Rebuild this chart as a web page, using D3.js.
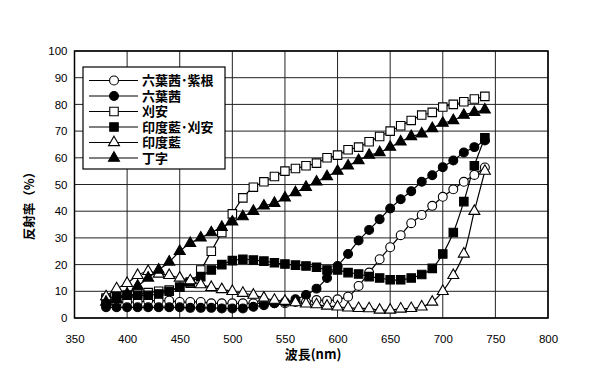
<!DOCTYPE html>
<html>
<head>
<meta charset="utf-8">
<script src="https://cdn.jsdelivr.net/npm/d3@7"></script>
<style>
  body { margin: 0; background: #fff; }
  text { font-family: "Liberation Sans", Arial, sans-serif; }
  .jp { font-family: "Noto Sans CJK JP", sans-serif; font-weight: bold; }
  .leg { font-family: "Liberation Sans", "Noto Sans CJK JP", sans-serif; font-weight: bold; }
</style>
</head>
<body>
<div class="box"></div>
<script>
// données (longueur d'onde 380..740 nm, pas 10)
const longueurs = d3.range(380, 741, 10);

const rokuSiko = [5, 5.5, 6, 6, 6.5, 6.5, 6.5, 6, 6, 6, 5.5, 5.5, 5.5, 5.5, 5.5, 5.5, 5.5, 5.5, 6, 6,
  6.7, 6.5, 7, 8, 12, 17, 22, 26.5, 31, 35.5, 38.6, 42, 45.4, 48.2, 51, 53.6, 56.4];
const roku = [4, 4, 4, 4, 4, 4, 4, 4, 3.8, 3.8, 3.8, 3.6, 3.6, 3.6, 4.2, 4.8, 5.5, 6, 7, 8.6,
  11, 15, 19.5, 24, 29, 33, 37, 41, 44.5, 47.5, 51, 53.5, 56.5, 59, 62, 64, 66.5];
const kariyasu = [7.5, 8, 8.5, 9, 9.5, 10, 10.5, 11.5, 13, 18, 25, 32, 39, 45, 49, 51, 53, 55, 56, 57,
  58, 60, 61, 63, 64, 66, 68, 70, 72, 74, 76, 77, 79, 80, 81, 82, 83];
const aiKari = [7, 8, 8.5, 8.5, 8.5, 9, 10, 11.5, 13.5, 15.5, 18, 20, 21.5, 22, 21.7, 21.3, 20.7, 20.2, 19.8, 19.5,
  19, 18, 18, 17, 16.5, 15.5, 15, 14.3, 14.3, 15, 16.3, 18.6, 24, 32, 43.6, 57, 67.5];
const ai = [8, 11, 13, 16, 17.5, 16.5, 16, 15, 14, 12.5, 11.5, 10.7, 10, 9.3, 8.6, 7.5, 6.7, 6.3, 5.8, 5.3,
  5, 4.5, 4.2, 3.8, 3.6, 3.5, 3, 3, 3.4, 3.6, 4.2, 6, 10, 16, 24, 40, 55];
const choji = [6, 7, 9, 12, 15, 18, 21, 25, 28, 30, 32, 34, 36, 38, 40, 42, 43, 45, 47, 49,
  51, 53, 55, 57, 59, 61, 62, 64, 66, 68, 69, 71, 73, 74, 76, 77, 78];

const noms = ['六葉茜･紫根', '六葉茜', '刈安', '印度藍･刈安', '印度藍', '丁字'];
const formes = ['circle', 'circle', 'square', 'square', 'triangle', 'triangle'];
const pleins = [false, true, false, true, false, true];
const valeurs = [rokuSiko, roku, kariyasu, aiKari, ai, choji];

const ticksX = d3.range(350, 801, 50);
const ticksY = d3.range(0, 101, 10);

const dims = {width: 600, height: 375, left: 74.5, right: 548, top: 51, bottom: 318};

const svg = d3.select('.box')
              .append('svg')
              .attr('width', dims.width)
              .attr('height', dims.height);

const x = d3.scaleLinear().domain([350, 800]).range([dims.left, dims.right]);
const y = d3.scaleLinear().domain([0, 100]).range([dims.bottom, dims.top]);

// grille
const grille = svg.append('g');
grille.selectAll('line.v')
      .data(ticksX)
      .enter().append('line')
      .attr('x1', d => x(d)).attr('x2', d => x(d))
      .attr('y1', dims.top).attr('y2', dims.bottom)
      .attr('stroke', '#222').attr('stroke-width', 1);
grille.selectAll('line.h')
      .data(ticksY)
      .enter().append('line')
      .attr('x1', dims.left).attr('x2', dims.right)
      .attr('y1', d => y(d)).attr('y2', d => y(d))
      .attr('stroke', '#222').attr('stroke-width', 1);

svg.append('rect')
   .attr('x', dims.left).attr('y', dims.top)
   .attr('width', dims.right - dims.left).attr('height', dims.bottom - dims.top)
   .attr('fill', 'none').attr('stroke', '#000').attr('stroke-width', 1.5);

// axes
const axeX = svg.append('g')
                .attr('transform', `translate(0, ${dims.bottom + 13})`)
                .call(d3.axisBottom(x).tickValues(ticksX).tickSize(0).tickPadding(4));
const axeY = svg.append('g')
                .attr('transform', `translate(${dims.left - 7}, 0)`)
                .call(d3.axisLeft(y).tickValues(ticksY).tickSize(0).tickPadding(0));
[axeX, axeY].forEach(a => {
    a.select('.domain').remove();
    a.selectAll('text')
     .attr('font-family', '"Liberation Sans", Arial, sans-serif')
     .attr('font-size', 11.5).attr('fill', '#000');
});

svg.append('text')
   .attr('class', 'jp')
   .attr('x', 313).attr('y', 359)
   .attr('text-anchor', 'middle')
   .attr('font-size', 13)
   .text('波長(nm)');

svg.append('text')
   .attr('class', 'jp')
   .attr('transform', `translate(34, 203) rotate(-90)`)
   .attr('text-anchor', 'middle')
   .attr('font-size', 12.5)
   .text('反射率（%）');

// marqueurs
const symboles = {
    circle: d3.symbol().type(d3.symbolCircle).size(62),
    square: d3.symbol().type(d3.symbolSquare).size(72),
    triangle: d3.symbol().type(d3.symbolTriangle).size(52)
};

const ligne = d3.line()
                .x(d => x(d[0]))
                .y(d => y(d[1]))
                .curve(d3.curveCatmullRom);

const graph = svg.append('g');

valeurs.forEach((serie, i) => {
    const pts = longueurs.map((l, j) => [l, serie[j]]);
    graph.append('path')
         .datum(pts)
         .attr('d', ligne)
         .attr('fill', 'none')
         .attr('stroke', '#000')
         .attr('stroke-width', 1.2);
});

valeurs.forEach((serie, i) => {
    const pts = longueurs.map((l, j) => [l, serie[j]]);
    graph.append('g')
         .selectAll('path')
         .data(pts)
         .enter().append('path')
         .attr('d', symboles[formes[i]])
         .attr('transform', d => `translate(${x(d[0])}, ${y(d[1])})`)
         .attr('fill', pleins[i] ? '#000' : '#fff')
         .attr('stroke', '#000')
         .attr('stroke-width', 1.1);
});

// légende
const groupeLegendes = svg.append('g')
                          .attr('transform', 'translate(83, 67)');
groupeLegendes.append('rect')
              .attr('width', 142).attr('height', 102)
              .attr('fill', '#fff').attr('stroke', '#000').attr('stroke-width', 1.2);

const items = groupeLegendes.selectAll('g.item')
                            .data(noms)
                            .enter().append('g')
                            .attr('transform', (d, i) => `translate(0, ${13.5 + i * 15.5})`);
items.append('line')
     .attr('x1', 6).attr('x2', 55)
     .attr('stroke', '#000').attr('stroke-width', 1.2);
items.append('path')
     .attr('d', (d, i) => symboles[formes[i]]())
     .attr('transform', 'translate(31, 0)')
     .attr('fill', (d, i) => pleins[i] ? '#000' : '#fff')
     .attr('stroke', '#000').attr('stroke-width', 1.1);
items.append('text')
     .attr('class', 'leg')
     .attr('x', 59).attr('dy', '0.38em')
     .attr('font-size', 13)
     .text(d => d);
</script>
</body>
</html>
